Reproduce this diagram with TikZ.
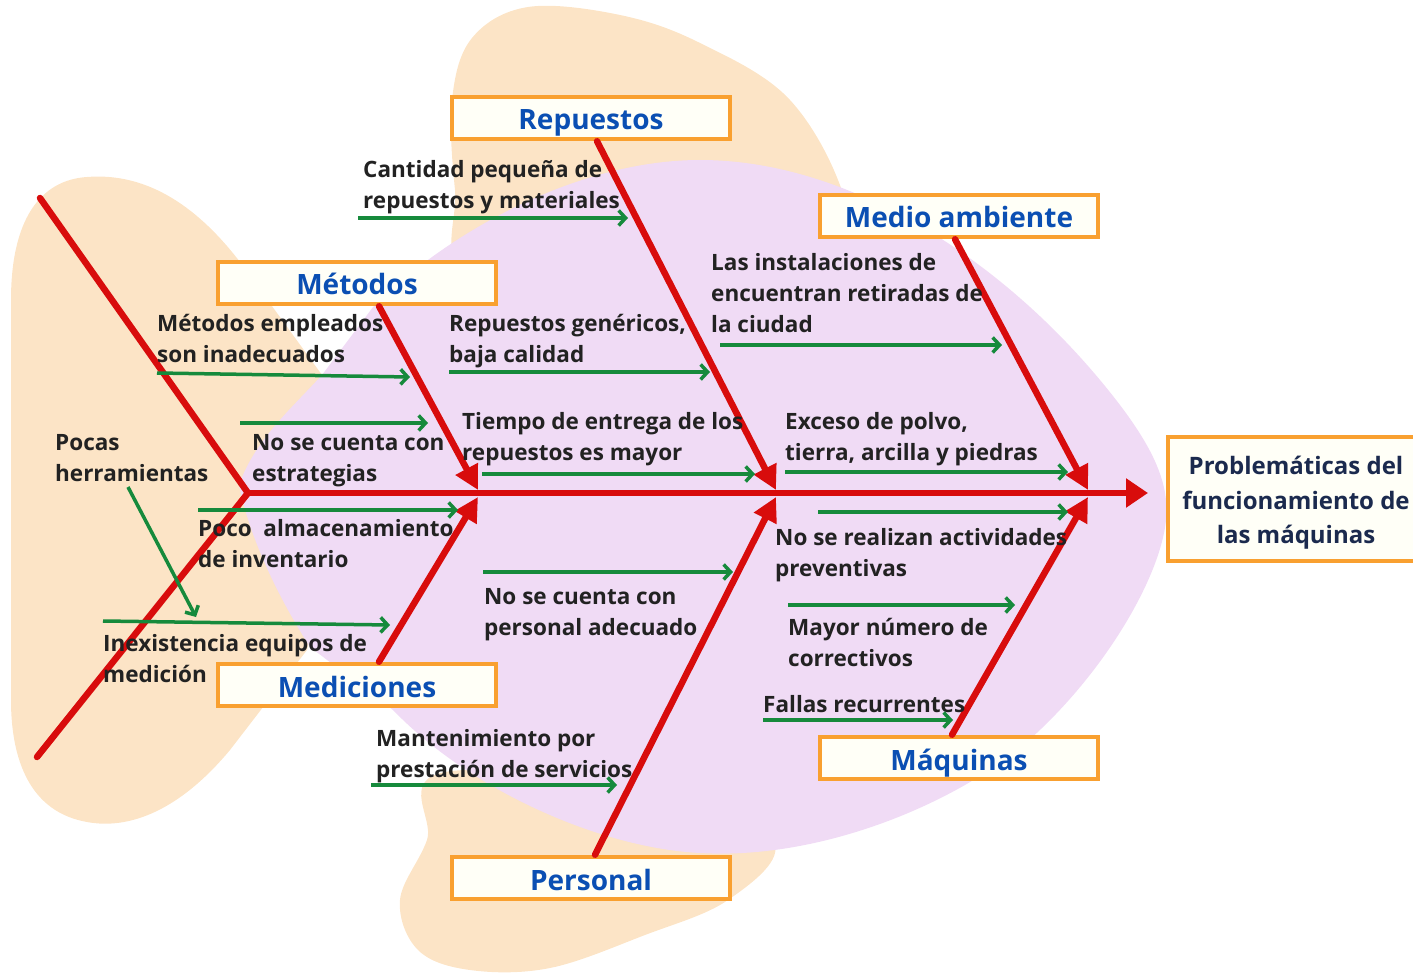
\documentclass[tikz,border=0pt]{standalone}
\usepackage{fontspec}
\setmainfont{Open Sans}
\usetikzlibrary{arrows.meta}
\definecolor{blobOrange}{HTML}{FCE4C6}
\definecolor{blobPurple}{HTML}{F0DBF5}
\definecolor{boneRed}{HTML}{D80C0C}
\definecolor{causeGreen}{HTML}{168A3C}
\definecolor{frameOrange}{HTML}{F9A030}
\definecolor{titleBlue}{HTML}{0B4FB3}
\definecolor{labelInk}{HTML}{222222}
\definecolor{effectInk}{HTML}{1B2A4E}
\begin{document}
\begin{tikzpicture}[x=1pt,y=-1pt,
  catbox/.style={draw=frameOrange, line width=4.5pt, fill=white!97!yellow,
    minimum width=278pt, minimum height=42pt, inner sep=0pt,
    text height=24pt, text depth=0pt,
    font=\fontsize{28}{32}\selectfont\bfseries, text=titleBlue},
  effectbox/.style={draw=frameOrange, line width=4.5pt, fill=white!97!yellow,
    minimum width=256pt, minimum height=124pt, inner sep=0pt},
  effecttext/.style={align=center, inner sep=0pt,
    font=\fontsize{24}{34.5}\selectfont\bfseries, text=effectInk},
  lab/.style={anchor=north west, align=left, inner sep=0pt,
    font=\fontsize{22.5}{31}\selectfont\bfseries, text=labelInk},
  bone/.style={draw=boneRed, line width=6.5pt, line cap=round,
    -{Triangle[length=24pt,width=24pt]}},
  tail/.style={draw=boneRed, line width=6.5pt, line cap=round, line join=miter},
  garr/.style={draw=causeGreen, line width=3.5pt,
    -{Straight Barb[length=7pt,width=15pt,line width=3.5pt]}}]

\clip (0,0) rectangle (1413,973);

% background shapes: tail fin, upper and lower fins, body
\fill[blobOrange] (87,177) .. controls (150,172) and (200,210) .. (240,262)
  -- (322,375) -- (345,500) -- (307,650) -- (230,750)
  .. controls (180,810) and (130,830) .. (87,822)
  .. controls (30,812) and (11,760) .. (11,700) -- (11,300)
  .. controls (11,220) and (40,180) .. cycle;
\fill[blobOrange] plot[smooth cycle, tension=0.6] coordinates {
  (455,190) (452,100) (472,38) (528,7) (620,15) (700,43) (790,100)
  (845,200) (850,300) (650,320) (470,280)};
\fill[blobOrange] plot[smooth cycle, tension=0.6] coordinates {
  (445,772) (427,840) (400,900) (418,950) (470,970) (550,968) (645,935)
  (728,900) (775,845) (700,790)};
\fill[blobPurple] (239,485) .. controls (255,440) and (290,410) .. (322,375)
  -- (373,307) .. controls (450,230) and (580,160) .. (700,160)
  .. controls (850,160) and (1000,260) .. (1100,380)
  .. controls (1150,440) and (1170,480) .. (1166,520)
  .. controls (1160,580) and (1100,680) .. (1021,747)
  .. controls (950,805) and (820,860) .. (700,853)
  .. controls (600,848) and (470,790) .. (393,710) -- (310,647)
  .. controls (280,600) and (250,540) .. cycle;

% category boxes and effect
\node[catbox] (rep) at (591,118) {Repuestos};
\node[catbox] (med) at (959,216) {Medio ambiente};
\node[catbox] (met) at (357,283) {Métodos};
\node[catbox] (mic) at (357,685) {Mediciones};
\node[catbox] (per) at (591,878) {Personal};
\node[catbox] (maq) at (959,758) {Máquinas};
\node[effectbox] (eff) at (1296,499) {};
\node[effecttext] (effText) at ([yshift=-4pt]eff.center) {Problemáticas del\\funcionamiento de\\las máquinas};

% spine, tail and bones
\coordinate (head) at (248,493);
\coordinate (tailTop) at (40,198);
\coordinate (tailBot) at (37,757);
\coordinate (tip) at (1148,493);
\draw[tail] (tailTop) -- (head) -- (tailBot);
\draw[bone, -{Triangle[length=22pt,width=28pt]}] (head) -- (tip);

\coordinate (tMet) at (478,490);
\coordinate (tRep) at (776,490);
\coordinate (tMed) at (1088,490);
\coordinate (tMic) at (478,497);
\coordinate (tPer) at (776,497);
\coordinate (tMaq) at (1088,497);
\draw[bone] ([xshift=22pt]met.south) -- (tMet);
\draw[bone] ([xshift=6pt]rep.south) -- (tRep);
\draw[bone] ([xshift=-4pt]med.south) -- (tMed);
\draw[bone] ([xshift=22pt]mic.north) -- (tMic);
\draw[bone] ([xshift=4pt]per.north) -- (tPer);
\draw[bone] ([xshift=-7pt]maq.north) -- (tMaq);

% cause labels
\node[lab] (c1) at (363,160) {Cantidad pequeña de\\repuestos y materiales};
\node[lab] (c2) at (157,314) {Métodos empleados\\son inadecuados};
\node[lab] (c3) at (449,314) {Repuestos genéricos,\\baja calidad};
\node[lab] (c4) at (711,253) {Las instalaciones de\\encuentran retiradas de\\la ciudad};
\node[lab] (c5) at (55,434) {Pocas\\herramientas};
\node[lab] (c6) at (252,434) {No se cuenta con\\estrategias};
\node[lab] (c7) at (462,412) {Tiempo de entrega de los\\repuestos es mayor};
\node[lab] (c8) at (785,412) {Exceso de polvo,\\tierra, arcilla y piedras};
\node[lab] (c9) at (198,519) {Poco\ \ almacenamiento\\de inventario};
\node[lab] (c10) at (484,588) {No se cuenta con\\personal adecuado};
\node[lab] (c11) at (103,634) {Inexistencia equipos de\\medición};
\node[lab] (c12) at (376,729) {Mantenimiento por\\prestación de servicios};
\node[lab] (c13) at (775,528) {No se realizan actividades\\preventivas};
\node[lab] (c14) at (788,618) {Mayor número de\\correctivos};
\node[lab] (c15) at (763,695) {Fallas recurrentes};

% cause arrows
\coordinate (g1a) at (358,218);  \coordinate (g1b) at (628,218);
\coordinate (g2a) at (157,373);  \coordinate (g2b) at (410,377);
\coordinate (g3a) at (449,372);  \coordinate (g3b) at (710,372);
\coordinate (g4a) at (720,345);  \coordinate (g4b) at (1002,345);
\coordinate (g5a) at (128,487);  \coordinate (g5b) at (196,617);
\coordinate (g6a) at (240,423);  \coordinate (g6b) at (428,423);
\coordinate (g7a) at (482,474);  \coordinate (g7b) at (755,474);
\coordinate (g8a) at (785,472);  \coordinate (g8b) at (1068,472);
\coordinate (g9a) at (198,510);  \coordinate (g9b) at (458,510);
\coordinate (g10a) at (483,572); \coordinate (g10b) at (733,572);
\coordinate (g11a) at (103,621); \coordinate (g11b) at (390,625);
\coordinate (g12a) at (371,785); \coordinate (g12b) at (617,785);
\coordinate (g13a) at (818,512); \coordinate (g13b) at (1068,512);
\coordinate (g14a) at (788,605); \coordinate (g14b) at (1015,605);
\coordinate (g15a) at (763,720); \coordinate (g15b) at (953,720);
\foreach \k in {1,...,15} {\draw[garr] (g\k a) -- (g\k b);}
\end{tikzpicture}
\end{document}
